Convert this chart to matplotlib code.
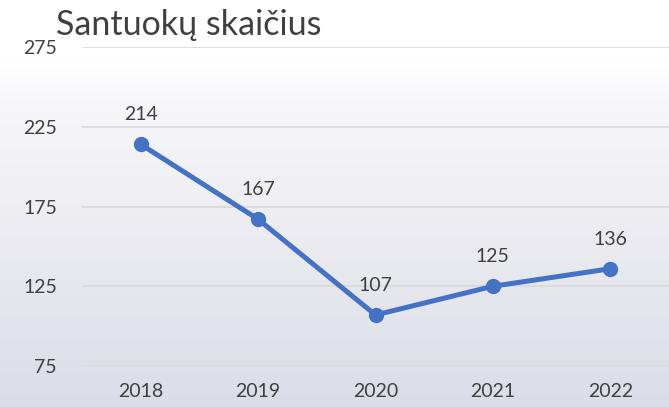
import matplotlib

matplotlib.use("Agg")

import matplotlib.pyplot as plt
import numpy as np
from matplotlib.colors import LinearSegmentedColormap

years = ["2018", "2019", "2020", "2021", "2022"]
marriages = [214, 167, 107, 125, 136]
y_ticks = [75, 125, 175, 225, 275]
title = "Santuokų skaičius"

plt.rcParams["font.family"] = ["Lato", "DejaVu Sans"]
TEXT = "#404040"
LINE = "#4472C4"

fig = plt.figure(figsize=(6.69, 4.07), dpi=100)

# soft white -> lavender-grey vertical gradient behind everything
bg = fig.add_axes((0, 0, 1, 1), zorder=-10)
grad = np.linspace(0, 1, 256).reshape(-1, 1)
cmap = LinearSegmentedColormap.from_list(
    "bg", [(0.0, "#dcdce6"), (0.75, "#f7f7fa"), (0.85, "#ffffff"), (1.0, "#ffffff")])
bg.imshow(grad, aspect="auto", cmap=cmap, origin="lower", extent=(0, 1, 0, 1))
bg.set_axis_off()

ax = fig.add_axes((0.1226, 0.1007, 0.8774, 0.7838))
ax.patch.set_alpha(0)
x = np.arange(len(years))
ax.plot(x, marriages, "-o", color=LINE, lw=3.6, ms=10, zorder=3,
        solid_capstyle="round")
for xi, v in zip(x, marriages):
    ax.annotate(str(v), (xi, v), xytext=(0, 15), textcoords="offset points",
                ha="center", va="bottom", fontsize=14, color=TEXT)

ax.set_xlim(-0.5, len(years) - 0.5)
ax.set_ylim(75, 275)
ax.set_xticks(x, years)
ax.set_yticks(y_ticks)
ax.grid(axis="y", color="#d9d9d9", lw=1.2)
ax.set_axisbelow(True)
for s in ax.spines.values():
    s.set_visible(False)
ax.tick_params(length=0, labelsize=14, labelcolor=TEXT)
ax.tick_params(axis="y", pad=18)
ax.tick_params(axis="x", pad=12)

fig.text(0.084, 0.914, title, fontsize=24.5, color=TEXT, ha="left", va="baseline")

fig.savefig("out.png", dpi=100)
